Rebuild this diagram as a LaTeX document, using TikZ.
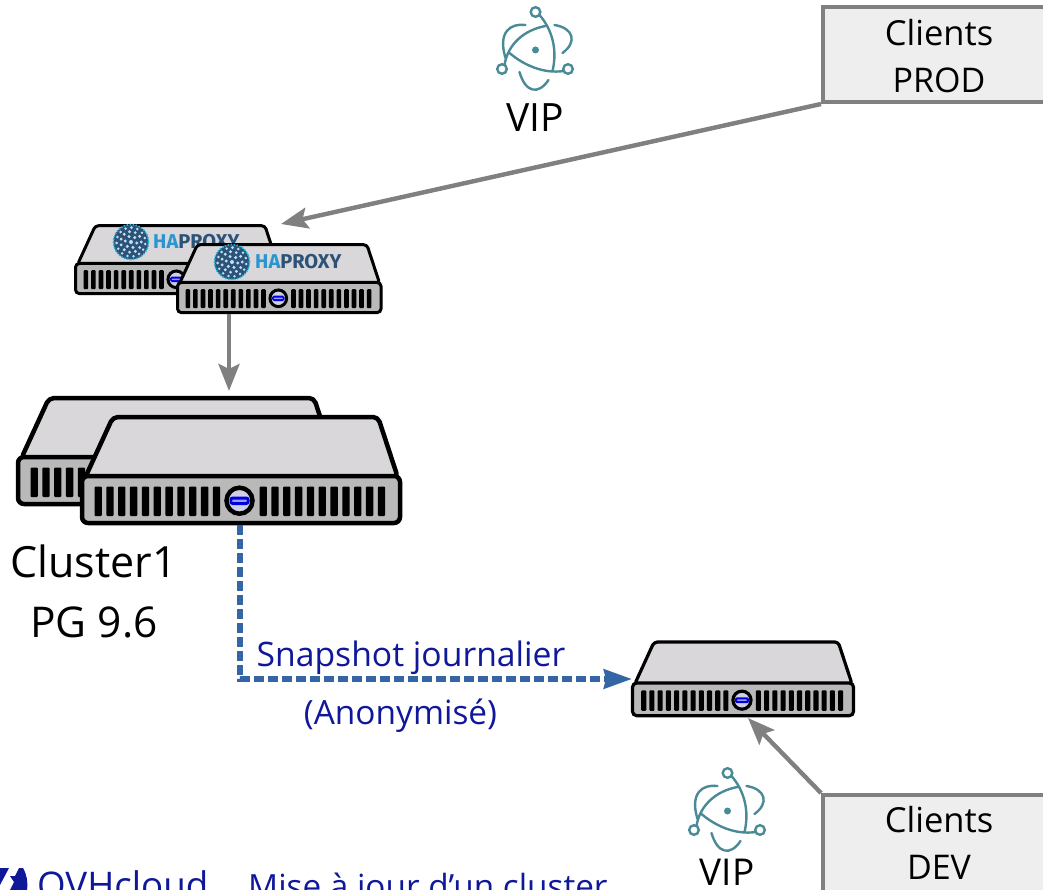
\documentclass[tikz,border=0pt]{standalone}
\usepackage{fontspec}
\setmainfont{Open Sans}
\newfontfamily\fira{Fira Sans}
\usetikzlibrary{arrows.meta}
\definecolor{linkgray}{HTML}{808080}
\definecolor{boxfill}{HTML}{EEEEEE}
\definecolor{topfill}{HTML}{D9D7DA}
\definecolor{frontfill}{HTML}{B8B9B8}
\definecolor{repblue}{HTML}{3465A4}
\definecolor{labelblue}{HTML}{10189A}
\definecolor{teal}{HTML}{4A8A96}
\definecolor{haL}{HTML}{2A96D0}
\definecolor{haD}{HTML}{2C5278}
\newcommand{\fpx}[1]{\fontsize{#1pt}{#1pt}\selectfont}
\newcommand{\serverpic}[4]{%
 \begin{scope}[shift={(#1,#2)},scale=#3]
  \draw[line width=#4pt,fill=topfill,line join=round,rounded corners=5pt*#3] (3,2) -- (31,-59) -- (296,-59) -- (316,2) -- cycle;
  \draw[line width=#4pt,fill=frontfill,rounded corners=6pt*#3] (0,0) rectangle (318,47);
  \foreach \i in {0,...,10}{
   \fill[rounded corners=1pt] ({12.5+\i*11.83},10.5) rectangle ++(7.3,29.5);
   \fill[rounded corners=1pt] ({177.5+\i*11.83},10.5) rectangle ++(7.3,29.5);
  }
  \draw[line width=#4pt,fill=white!90!blue!90!black] (157.5,24.7) circle (13);
  \fill[blue!85!black,rounded corners=3pt*#3] (147.5,20.5) rectangle (167.5,29);
  \fill[white!60!blue,rounded corners=1pt] (150,23.7) rectangle (165,25.8);
 \end{scope}}
\newcommand{\haball}[2]{%
 \begin{scope}[shift={(#1,#2)}]
  \draw[haL!70!cyan,fill=haD,line width=1.6pt,dash pattern=on 1.5pt off 1.5pt] (0,0) circle (17.5);
  \fill[haL!30!white] (0,0) circle (2);
  \foreach \k in {0,...,5}{\fill[haL!30!white] ({\k*60+10}:5.8) circle (1.7);}
  \foreach \k in {0,...,10}{\fill[haL!30!white] ({\k*32.7}:10.3) circle (1.6);}
  \foreach \k in {0,...,14}{\fill[haL!30!white] ({\k*24+8}:14.4) circle (1.4);}
 \end{scope}}
\newcommand{\hatext}[3]{\node[anchor=west,inner sep=0pt,font=\fira\fpx{20}\bfseries] (#3) at (#1,#2) {\textcolor{haL}{HA}\textcolor{haD}{PROXY}};}
\newcommand{\vipicon}[2]{%
 \begin{scope}[shift={(#1,#2)},teal,line width=2.4pt,line cap=round]
  \fill (0,0) circle (3.5);
  \draw (4,-35) .. controls (17,-20) and (22,0) .. (17,21);
  \draw (-31,15) .. controls (-28,-5) and (-12,-20) .. (10,-24);
  \draw (28,21) .. controls (8,24) and (-12,15) .. (-26,3);
  \draw (-10,-25) .. controls (-25,-27) and (-38,-18) .. (-30,8);
  \draw (19,-25) .. controls (38,-22) and (42,-8) .. (27,3);
  \draw (-16,22) .. controls (-10,43) and (3,45) .. (13,30);
  \draw (0,-38) circle (4.8);
  \draw (-33.5,19) circle (4.8);
  \draw (32.5,19) circle (4.8);
 \end{scope}}
\begin{document}
\begin{tikzpicture}[x=1pt,y=-1pt,
 clientbox/.style={draw=linkgray,fill=boxfill,line width=4pt,minimum width=232pt,inner sep=0pt,anchor=center},
 grayarrow/.style={draw=linkgray,line width=4.4pt,-{Stealth[length=27pt,width=21pt,inset=5pt]}},
 bluearrow/.style={draw=repblue,line width=5.5pt,dash pattern=on 10pt off 4pt,-{Stealth[length=28pt,width=19pt,inset=2pt]}},
 txt/.style={inner sep=0pt,anchor=center},
 bluetxt/.style={txt,text=labelblue}]
\useasboundingbox (0,0) rectangle (1043,890);
\clip (0,0) rectangle (1043,890);
% icons
\vipicon{535.5}{50}
\vipicon{727.5}{811}
\node[txt,font=\fpx{39}] (vip1) at (535,118) {VIP};
\node[txt,font=\fpx{37}] (vip2) at (727,872) {VIP};
% client boxes
\node[clientbox,minimum height=95pt] (prod) at (939,54.5) {};
\node[txt,font=\fpx{34.5}] (prod1) at (939,33) {Clients};
\node[txt,font=\fpx{34}] (prod2) at (939,80) {PROD};
\node[clientbox,minimum height=100pt] (dev) at (939,845) {};
\node[txt,font=\fpx{34.5}] (dev1) at (939,820) {Clients};
\node[txt,font=\fpx{34}] (dev2) at (939,867) {DEV};
% servers
\serverpic{75.5}{263.5}{0.64}{3}
\haball{131}{242}
\hatext{153}{242}{haA}
\serverpic{177.5}{282.5}{0.64}{3}
\haball{232}{262}
\hatext{255}{262}{haB}
\serverpic{18}{457}{1}{4.5}
\serverpic{82}{476}{1}{4.5}
\serverpic{632.5}{683}{0.695}{3.2}
% anchors
\coordinate (haIn) at (281,224);
\coordinate (haOut) at (229,314);
\coordinate (pgIn) at (229,391);
\coordinate (pgOut) at (240,525);
\coordinate (devIn) at (632,679);
\coordinate (devIn2) at (748,718);
\coordinate (bend) at (240,679);
% connectors
\draw[grayarrow] (prod.south west) -- (haIn);
\draw[grayarrow] (haOut) -- (pgIn);
\draw[grayarrow] (dev.north west) -- (devIn2);
\draw[bluearrow] (pgOut) -- (bend) -- (devIn);
% labels
\node[txt,font=\fpx{43}] (c1) at (93.5,561) {Cluster1};
\node[txt,font=\fpx{42.4}] (c2) at (94,622) {PG 9.6};
\node[bluetxt,font=\fpx{33.7}] (snap) at (411,658) {Snapshot journalier};
\node[bluetxt,font=\fpx{33.4}] (anon) at (400.5,716) {(Anonymisé)};
\node[bluetxt,font=\fpx{36.7},anchor=base west] (ovh) at (37,898) {OVHcloud};
\node[bluetxt,font=\fpx{33.3},anchor=base west] (maj) at (248,898) {Mise à jour d’un cluster};
% logo
\fill[labelblue] (0,868) -- (9,868) -- (0,885) -- cycle;
\fill[labelblue] (19,868) -- (23,868) .. controls (27,875) and (28,882) .. (27,890) -- (10,890) -- (14,882) -- (10,876) -- (15,876) -- cycle;
\end{tikzpicture}
\end{document}
